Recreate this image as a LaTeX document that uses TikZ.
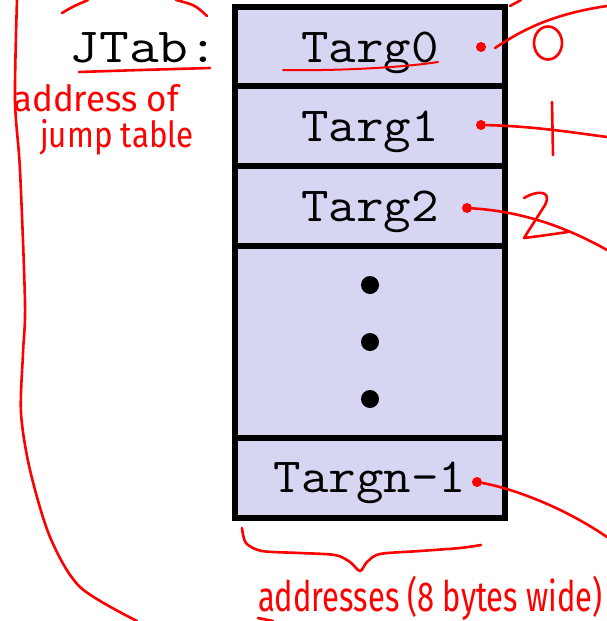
\documentclass[tikz,border=0pt]{standalone}
\usepackage{fontspec}
\newfontfamily\handfont{Fira Sans}
\definecolor{tablefill}{RGB}{214,214,242}
\definecolor{ink}{RGB}{255,0,0}
\newcommand\mono[2][1.09]{\scalebox{#1}[1]{#2}}
\begin{document}
\begin{tikzpicture}[x=1pt,y=-1pt,
  cell/.style={draw=black, line width=5.5pt, fill=tablefill, minimum width=270pt,
               inner sep=0pt, outer sep=0pt},
  code/.style={font=\ttfamily\fontsize{49}{52}\selectfont, inner sep=0pt, anchor=base},
  pin/.style={circle, fill=ink, inner sep=0pt, minimum size=10pt},
  blob/.style={circle, fill=black, inner sep=0pt, minimum size=18pt},
  pen/.style={draw=ink, line width=2.6pt, line cap=round, line join=round},
  note/.style={text=ink, inner sep=0pt, anchor=base west},
]
\useasboundingbox (0,0) rectangle (607,621);

% jump table cells
\node[cell, minimum height=79pt]  (r0) at (370,46.5) {};
\node[cell, minimum height=80pt]  (r1) at (370,126) {};
\node[cell, minimum height=80pt]  (r2) at (370,206) {};
\node[cell, minimum height=192pt] (rd) at (370,342) {};
\node[cell, minimum height=80pt]  (rn) at (370,478) {};

% cell contents
\node[code] (t0) at (370,62)  {\mono{Targ0}};
\node[code] (t1) at (370,141) {\mono{Targ1}};
\node[code] (t2) at (370,221) {\mono{Targ2}};
\node[code] (tn) at (370,492) {\mono{Targn-1}};
\node[blob] (b1) at (370,285) {};
\node[blob] (b2) at (370,342) {};
\node[blob] (b3) at (370,399) {};

% table label
\node[code] (jt) at (144,62) {\mono[1.18]{JTab:}};

% handwritten pointers out of each entry
\node[pin] (d0) at (481,47)  {};
\node[pin] (d1) at (481,125) {};
\node[pin] (d2) at (467,208) {};
\node[pin] (dn) at (477,482) {};
\coordinate (e0) at (607,6);
\coordinate (e1) at (607,137);
\coordinate (e2) at (607,250);
\coordinate (en) at (607,537);
\draw[pen] (d0) ++(14,1) .. controls (515,35) and (545,15) .. (e0);
\draw[pen] (d1) .. controls (530,126) and (570,132) .. (e1);
\draw[pen] (d2) .. controls (530,212) and (575,232) .. (e2);
\draw[pen] (dn) .. controls (510,488) and (560,505) .. (en);

% handwritten index digits
\draw[pen] (548,43) ellipse [x radius=14, y radius=16.5];
\draw[pen] (552,102) -- (553,155);
\draw[pen] (524,198) .. controls (535,191) and (553,189) .. (545,205)
           -- (524,238) .. controls (540,236) .. (568,232);

% underlines
\draw[pen] (79,72) .. controls (140,70) .. (210,68);
\draw[pen, line width=2pt] (283,70) .. controls (330,71) and (400,68) .. (438,62);

% brace under the table
\draw[pen] plot[smooth] coordinates {(242,528) (246,543) (262,551) (300,553) (335,555)
  (350,562) (360,571) (367,562) (380,554) (420,551) (460,548) (481,545)};

% loose strokes around the slide
\draw[pen] plot[smooth] coordinates {(17,0) (15,100) (20,170) (25,303) (23,353)
  (21,413) (30,470) (50,537) (80,587) (137,621)};
\draw[pen] (62,13) .. controls (72,7) .. (88,0);
\draw[pen] (176,0) .. controls (195,5) .. (207,16);
\draw[pen] (510,6) -- (521,0);
\draw[pen] (258,618) -- (273,621);

% handwritten notes
\node[note] (n1) at (13,111) {\handfont\fontsize{36}{38}\selectfont\scalebox{0.97}[1]{address of}};
\node[note] (n2) at (40,147) {\handfont\fontsize{36}{38}\selectfont\scalebox{0.87}[1]{jump table}};
\node[note] (n3) at (258,611) {\handfont\fontsize{42}{44}\selectfont\scalebox{0.735}[1]{addresses (8 bytes wide)}};
\end{tikzpicture}
\end{document}
